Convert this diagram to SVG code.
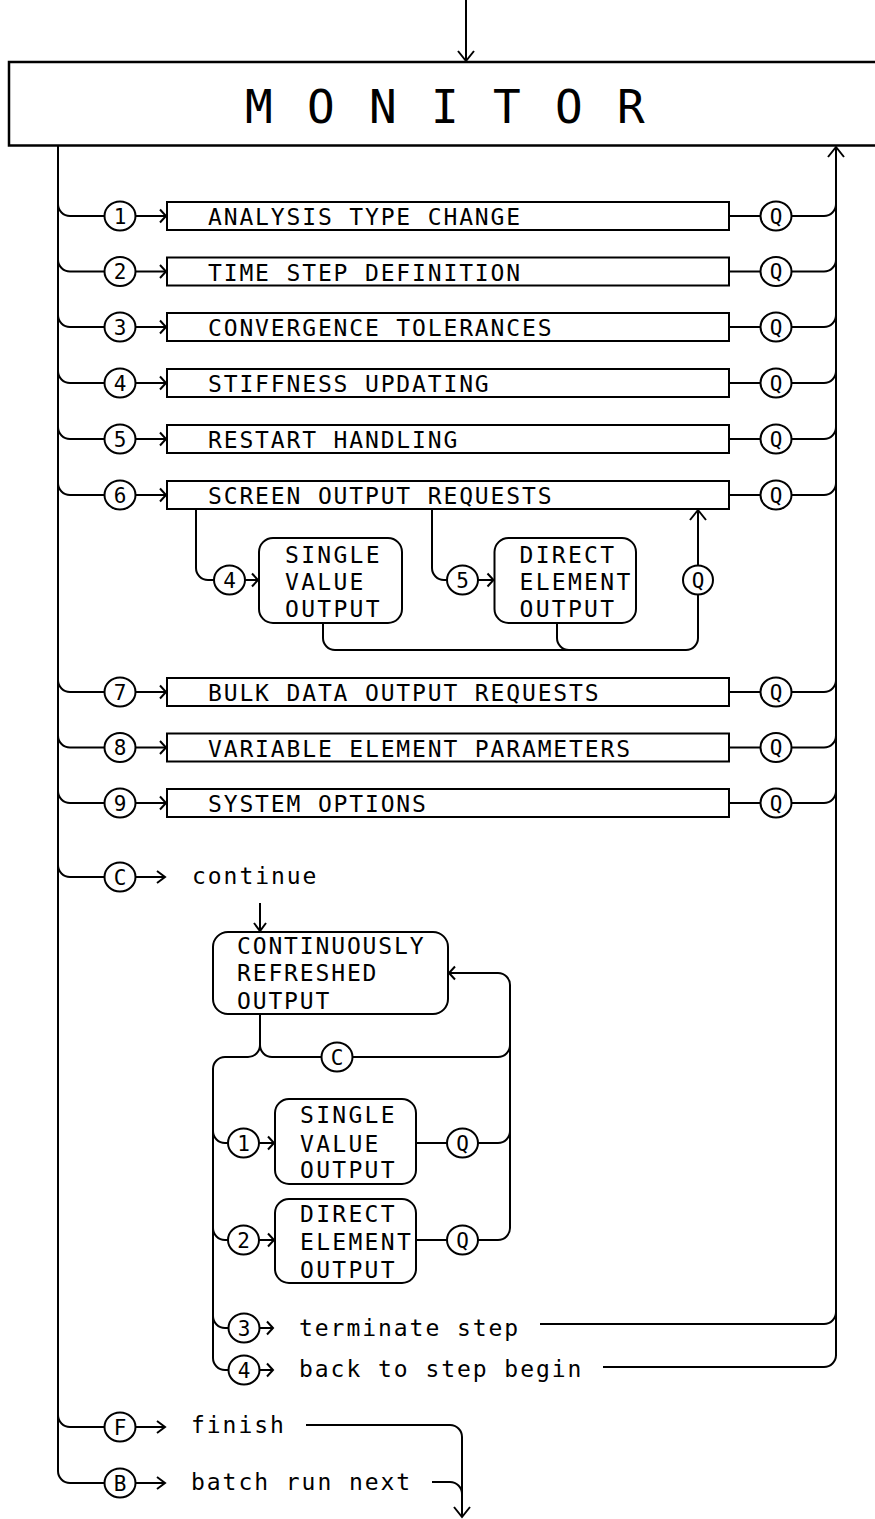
<svg xmlns="http://www.w3.org/2000/svg" width="875" height="1519" viewBox="0 0 875 1519">
<style>
.ln{fill:none;stroke:#000;stroke-width:2}
.bx{fill:#fff;stroke:#000;stroke-width:2}
.t{font-family:"DejaVu Sans Mono","Liberation Mono",monospace;font-size:23px;letter-spacing:1.85px;fill:#000}
.ti{font-family:"DejaVu Sans Mono","Liberation Mono",monospace;font-size:23px;letter-spacing:2.3px;fill:#000}
.tl{font-family:"DejaVu Sans Mono","Liberation Mono",monospace;font-size:23px;letter-spacing:1.95px;fill:#000}
.tc{font-family:"DejaVu Sans Mono","Liberation Mono",monospace;font-size:21px;text-anchor:middle;fill:#000}
.tm{font-family:"DejaVu Sans Mono","Liberation Mono",monospace;font-size:46px;letter-spacing:3.3px;fill:#000}
</style>
<defs>
<marker id="s" markerUnits="userSpaceOnUse" markerWidth="20" markerHeight="20" viewBox="-10 -10 20 20" refX="0" refY="0" orient="auto" overflow="visible"><path d="M-6,-6.5 L0,0 L-6,6.5" fill="none" stroke="#000" stroke-width="2"/></marker>
<marker id="m" markerUnits="userSpaceOnUse" markerWidth="20" markerHeight="20" viewBox="-10 -10 20 20" refX="0" refY="0" orient="auto" overflow="visible"><path d="M-8,-6 L0,0 L-8,6" fill="none" stroke="#000" stroke-width="2"/></marker>
<marker id="l" markerUnits="userSpaceOnUse" markerWidth="24" markerHeight="24" viewBox="-12 -12 24 24" refX="0" refY="0" orient="auto" overflow="visible"><path d="M-10,-8 L0,0 L-10,8" fill="none" stroke="#000" stroke-width="2"/></marker>
</defs>
<rect x="0" y="0" width="875" height="1519" fill="#fff"/>

<g id="connectors">
<path class="ln" d="M466,0 V61" marker-end="url(#l)"/>
<path class="ln" d="M58,146 V1471 A12,12 0 0 0 70,1483 H104.5"/>
<path class="ln" d="M836,1356 V147" marker-end="url(#l)"/>
<path class="ln" d="M58,204 A12,12 0 0 0 70,216 H104.5"/>
<path class="ln" d="M58,259.5 A12,12 0 0 0 70,271.5 H104.5"/>
<path class="ln" d="M58,315 A12,12 0 0 0 70,327 H104.5"/>
<path class="ln" d="M58,371 A12,12 0 0 0 70,383 H104.5"/>
<path class="ln" d="M58,427 A12,12 0 0 0 70,439 H104.5"/>
<path class="ln" d="M58,483 A12,12 0 0 0 70,495 H104.5"/>
<path class="ln" d="M58,680 A12,12 0 0 0 70,692 H104.5"/>
<path class="ln" d="M58,735.5 A12,12 0 0 0 70,747.5 H104.5"/>
<path class="ln" d="M58,791 A12,12 0 0 0 70,803 H104.5"/>
<path class="ln" d="M58,865 A12,12 0 0 0 70,877 H104.5"/>
<path class="ln" d="M58,1415 A12,12 0 0 0 70,1427 H104.5"/>
<path class="ln" d="M135.5,216 H166" marker-end="url(#s)"/>
<path class="ln" d="M135.5,271.5 H166" marker-end="url(#s)"/>
<path class="ln" d="M135.5,327 H166" marker-end="url(#s)"/>
<path class="ln" d="M135.5,383 H166" marker-end="url(#s)"/>
<path class="ln" d="M135.5,439 H166" marker-end="url(#s)"/>
<path class="ln" d="M135.5,495 H166" marker-end="url(#s)"/>
<path class="ln" d="M135.5,692 H166" marker-end="url(#s)"/>
<path class="ln" d="M135.5,747.5 H166" marker-end="url(#s)"/>
<path class="ln" d="M135.5,803 H166" marker-end="url(#s)"/>
<path class="ln" d="M135.5,877 H165" marker-end="url(#m)"/>
<path class="ln" d="M135.5,1427 H165" marker-end="url(#m)"/>
<path class="ln" d="M135.5,1483 H165" marker-end="url(#m)"/>
<path class="ln" d="M729,216 H760.5 M791.5,216 H824 A12,12 0 0 0 836,204"/>
<path class="ln" d="M729,271.5 H760.5 M791.5,271.5 H824 A12,12 0 0 0 836,259.5"/>
<path class="ln" d="M729,327 H760.5 M791.5,327 H824 A12,12 0 0 0 836,315"/>
<path class="ln" d="M729,383 H760.5 M791.5,383 H824 A12,12 0 0 0 836,371"/>
<path class="ln" d="M729,439 H760.5 M791.5,439 H824 A12,12 0 0 0 836,427"/>
<path class="ln" d="M729,495 H760.5 M791.5,495 H824 A12,12 0 0 0 836,483"/>
<path class="ln" d="M729,692 H760.5 M791.5,692 H824 A12,12 0 0 0 836,680"/>
<path class="ln" d="M729,747.5 H760.5 M791.5,747.5 H824 A12,12 0 0 0 836,735.5"/>
<path class="ln" d="M729,803 H760.5 M791.5,803 H824 A12,12 0 0 0 836,791"/>
<path class="ln" d="M196,509 V568 A12,12 0 0 0 208,580 H214"/>
<path class="ln" d="M245,580 H258" marker-end="url(#s)"/>
<path class="ln" d="M432,509 V568 A12,12 0 0 0 444,580 H447"/>
<path class="ln" d="M478,580 H493.5" marker-end="url(#s)"/>
<path class="ln" d="M323,623 V638 A12,12 0 0 0 335,650 H686 A12,12 0 0 0 698,638 V594.5"/>
<path class="ln" d="M557,623 V638 A12,12 0 0 0 569,650"/>
<path class="ln" d="M698,565.5 V510" marker-end="url(#l)"/>
<path class="ln" d="M260,903 V931" marker-end="url(#m)"/>
<path class="ln" d="M260,1014 V1045 A12,12 0 0 1 248,1057 H225 A12,12 0 0 0 213,1069 V1358 A12,12 0 0 0 225,1370 H228.5"/>
<path class="ln" d="M260,1045 A12,12 0 0 0 272,1057 H321.5"/>
<path class="ln" d="M352.5,1057 H498 A12,12 0 0 0 510,1045"/>
<path class="ln" d="M510,1228 V985 A12,12 0 0 0 498,973 H449" marker-end="url(#s)"/>
<path class="ln" d="M213,1131 A12,12 0 0 0 225,1143 H228"/>
<path class="ln" d="M259,1143 H274" marker-end="url(#s)"/>
<path class="ln" d="M416,1143 H447 M478,1143 H498 A12,12 0 0 0 510,1131"/>
<path class="ln" d="M213,1228 A12,12 0 0 0 225,1240 H228"/>
<path class="ln" d="M259,1240 H274" marker-end="url(#s)"/>
<path class="ln" d="M416,1240 H447 M478,1240 H498 A12,12 0 0 0 510,1228"/>
<path class="ln" d="M213,1316 A12,12 0 0 0 225,1328 H228.5"/>
<path class="ln" d="M259.5,1328 H273" marker-end="url(#s)"/>
<path class="ln" d="M259.5,1370 H273" marker-end="url(#s)"/>
<path class="ln" d="M540,1324 H824 A12,12 0 0 0 836,1312"/>
<path class="ln" d="M603,1367 H824 A12,12 0 0 0 836,1355"/>
<path class="ln" d="M306,1425 H450 A12,12 0 0 1 462,1437 V1517" marker-end="url(#l)"/>
<path class="ln" d="M432,1482 H450 A12,12 0 0 1 462,1494"/>
</g>

<g id="monitor">
<rect x="9" y="62" width="880" height="83.5" fill="#fff" stroke="#000" stroke-width="2.5"/>
<text class="tm" x="245" y="123">M O N I T O R</text>
</g>

<g id="row1"><ellipse class="bx" cx="120" cy="216" rx="15.5" ry="14.5"/><text class="tc" x="120" y="223.5">1</text><rect class="bx" x="167" y="202" width="562" height="28"/><text class="t" x="208" y="225">ANALYSIS TYPE CHANGE</text><ellipse class="bx" cx="776" cy="216" rx="15.5" ry="14.5"/><text class="tc" x="776" y="223.5">Q</text></g>
<g id="row2"><ellipse class="bx" cx="120" cy="271.5" rx="15.5" ry="14.5"/><text class="tc" x="120" y="279">2</text><rect class="bx" x="167" y="257.5" width="562" height="28"/><text class="t" x="208" y="280.5">TIME STEP DEFINITION</text><ellipse class="bx" cx="776" cy="271.5" rx="15.5" ry="14.5"/><text class="tc" x="776" y="279">Q</text></g>
<g id="row3"><ellipse class="bx" cx="120" cy="327" rx="15.5" ry="14.5"/><text class="tc" x="120" y="334.5">3</text><rect class="bx" x="167" y="313" width="562" height="28"/><text class="t" x="208" y="336">CONVERGENCE TOLERANCES</text><ellipse class="bx" cx="776" cy="327" rx="15.5" ry="14.5"/><text class="tc" x="776" y="334.5">Q</text></g>
<g id="row4"><ellipse class="bx" cx="120" cy="383" rx="15.5" ry="14.5"/><text class="tc" x="120" y="390.5">4</text><rect class="bx" x="167" y="369" width="562" height="28"/><text class="t" x="208" y="392">STIFFNESS UPDATING</text><ellipse class="bx" cx="776" cy="383" rx="15.5" ry="14.5"/><text class="tc" x="776" y="390.5">Q</text></g>
<g id="row5"><ellipse class="bx" cx="120" cy="439" rx="15.5" ry="14.5"/><text class="tc" x="120" y="446.5">5</text><rect class="bx" x="167" y="425" width="562" height="28"/><text class="t" x="208" y="448">RESTART HANDLING</text><ellipse class="bx" cx="776" cy="439" rx="15.5" ry="14.5"/><text class="tc" x="776" y="446.5">Q</text></g>
<g id="row6"><ellipse class="bx" cx="120" cy="495" rx="15.5" ry="14.5"/><text class="tc" x="120" y="502.5">6</text><rect class="bx" x="167" y="481" width="562" height="28"/><text class="t" x="208" y="504">SCREEN OUTPUT REQUESTS</text><ellipse class="bx" cx="776" cy="495" rx="15.5" ry="14.5"/><text class="tc" x="776" y="502.5">Q</text></g>
<g id="row7"><ellipse class="bx" cx="120" cy="692" rx="15.5" ry="14.5"/><text class="tc" x="120" y="699.5">7</text><rect class="bx" x="167" y="678" width="562" height="28"/><text class="t" x="208" y="701">BULK DATA OUTPUT REQUESTS</text><ellipse class="bx" cx="776" cy="692" rx="15.5" ry="14.5"/><text class="tc" x="776" y="699.5">Q</text></g>
<g id="row8"><ellipse class="bx" cx="120" cy="747.5" rx="15.5" ry="14.5"/><text class="tc" x="120" y="755">8</text><rect class="bx" x="167" y="733.5" width="562" height="28"/><text class="t" x="208" y="756.5">VARIABLE ELEMENT PARAMETERS</text><ellipse class="bx" cx="776" cy="747.5" rx="15.5" ry="14.5"/><text class="tc" x="776" y="755">Q</text></g>
<g id="row9"><ellipse class="bx" cx="120" cy="803" rx="15.5" ry="14.5"/><text class="tc" x="120" y="810.5">9</text><rect class="bx" x="167" y="789" width="562" height="28"/><text class="t" x="208" y="812">SYSTEM OPTIONS</text><ellipse class="bx" cx="776" cy="803" rx="15.5" ry="14.5"/><text class="tc" x="776" y="810.5">Q</text></g>

<g id="screen-single"><ellipse class="bx" cx="229.5" cy="580" rx="15.5" ry="14.5"/><text class="tc" x="229.5" y="587.5">4</text><rect class="bx" x="259" y="538" width="143" height="85" rx="14"/><text class="ti" x="285" y="562.5">SINGLE</text><text class="ti" x="285" y="590">VALUE</text><text class="ti" x="285" y="617">OUTPUT</text></g>
<g id="screen-direct"><ellipse class="bx" cx="462.5" cy="580" rx="15.5" ry="14.5"/><text class="tc" x="462.5" y="587.5">5</text><rect class="bx" x="494.5" y="538" width="141.5" height="85" rx="14"/><text class="ti" x="519.5" y="562.5">DIRECT</text><text class="ti" x="519.5" y="590">ELEMENT</text><text class="ti" x="519.5" y="617">OUTPUT</text></g>
<g id="screen-q"><ellipse class="bx" cx="698" cy="580" rx="15" ry="14.5"/><text class="tc" x="698" y="587.5">Q</text></g>

<g id="rowC"><ellipse class="bx" cx="120" cy="877" rx="15.5" ry="14.5"/><text class="tc" x="120" y="884.5">C</text><text class="tl" x="192" y="884">continue</text></g>

<g id="continuous"><rect class="bx" x="213" y="932" width="235" height="82" rx="15"/><text class="t" x="237" y="954">CONTINUOUSLY</text><text class="t" x="237" y="981">REFRESHED</text><text class="t" x="237" y="1009">OUTPUT</text></g>
<g id="loop-c"><ellipse class="bx" cx="337" cy="1057" rx="15.5" ry="14.5"/><text class="tc" x="337" y="1064.5">C</text></g>
<g id="loop-single"><ellipse class="bx" cx="243.5" cy="1143" rx="15.5" ry="14.5"/><text class="tc" x="243.5" y="1150.5">1</text><rect class="bx" x="275" y="1099" width="141" height="85" rx="14"/><text class="ti" x="300" y="1122.5">SINGLE</text><text class="ti" x="300" y="1151.5">VALUE</text><text class="ti" x="300" y="1178">OUTPUT</text><ellipse class="bx" cx="462.5" cy="1143" rx="15.5" ry="14.5"/><text class="tc" x="462.5" y="1150.5">Q</text></g>
<g id="loop-direct"><ellipse class="bx" cx="243.5" cy="1240" rx="15.5" ry="14.5"/><text class="tc" x="243.5" y="1247.5">2</text><rect class="bx" x="275" y="1199" width="141" height="84" rx="14"/><text class="ti" x="300" y="1222">DIRECT</text><text class="ti" x="300" y="1250">ELEMENT</text><text class="ti" x="300" y="1278">OUTPUT</text><ellipse class="bx" cx="462.5" cy="1240" rx="15.5" ry="14.5"/><text class="tc" x="462.5" y="1247.5">Q</text></g>
<g id="loop-terminate"><ellipse class="bx" cx="244" cy="1328" rx="15.5" ry="14.5"/><text class="tc" x="244" y="1335.5">3</text><text class="tl" x="299" y="1336">terminate step</text></g>
<g id="loop-back"><ellipse class="bx" cx="244" cy="1370" rx="15.5" ry="14.5"/><text class="tc" x="244" y="1377.5">4</text><text class="tl" x="299" y="1377">back to step begin</text></g>

<g id="rowF"><ellipse class="bx" cx="120" cy="1427" rx="15.5" ry="14.5"/><text class="tc" x="120" y="1434.5">F</text><text class="tl" x="191" y="1433">finish</text></g>
<g id="rowB"><ellipse class="bx" cx="120" cy="1483" rx="15.5" ry="14.5"/><text class="tc" x="120" y="1490.5">B</text><text class="tl" x="191" y="1490">batch run next</text></g>
</svg>
